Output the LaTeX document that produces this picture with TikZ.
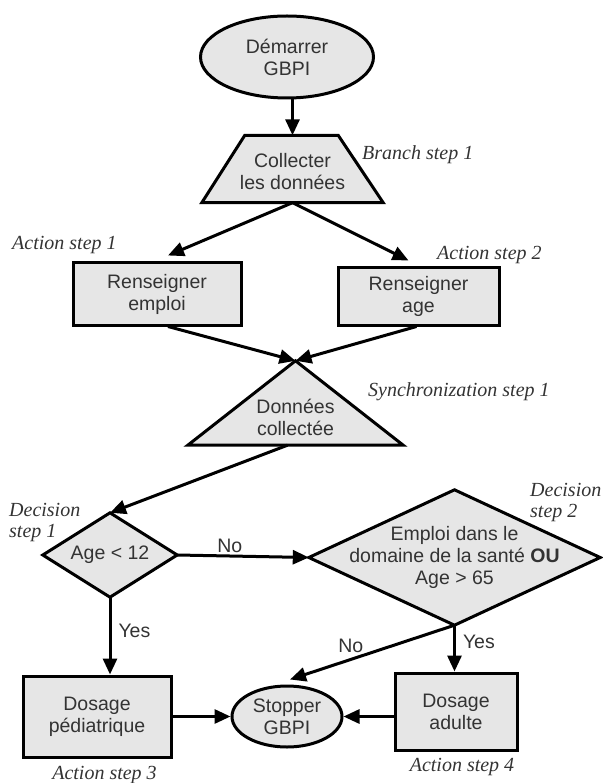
\documentclass[tikz,border=0pt]{standalone}
\usepackage{fontspec}
\setmainfont{Liberation Sans}
\newfontfamily\stepfont{Liberation Serif}
\usetikzlibrary{arrows.meta,shapes.geometric,backgrounds,calc}
\definecolor{Ink}{HTML}{333333}
\definecolor{Shade}{HTML}{E6E6E6}
\newcommand{\nodetxt}{\fontsize{19.5}{22}\selectfont}
\newcommand{\steptxt}{\fontsize{20}{21}\selectfont\stepfont\itshape}

\tikzset{
  every node/.style={text=Ink},
  box/.style={draw=black, fill=Shade, line width=3pt, align=center, inner sep=0pt, font=\nodetxt},
  roundbox/.style={box, ellipse},
  bare/.style={align=center, inner sep=0pt, font=\nodetxt},
  shape line/.style={draw=black, fill=Shade, line width=3pt, line join=miter},
  arr/.style={line width=3pt, -{Triangle[length=16pt,width=14pt]}},
  steplabel/.style={font=\steptxt, inner sep=0pt, align=left},
  edgelabel/.style={font=\nodetxt, inner sep=2pt},
}

\begin{document}
\begin{tikzpicture}[x=1pt,y=1pt]
    \useasboundingbox (0,0) rectangle (602,-783);

    % steps
    \node[roundbox, minimum width=173pt, minimum height=82pt] (start) at (287,-57) {Démarrer\\GBPI};
    \node[bare, minimum width=181pt, minimum height=67pt,
          label={[bare, yshift=-3pt]center:{Collecter\\les données}}] (collect) at (292.5,-169) {};
    \node[box, minimum width=168pt, minimum height=62pt] (emploi) at (157,-294) {Renseigner\\emploi};
    \node[box, minimum width=161pt, minimum height=58pt] (age) at (418.5,-296) {Renseigner\\age};
    \node[bare, minimum width=215pt, minimum height=84pt,
          label={[bare, yshift=-14pt]center:{Données\\collectée}}] (synch) at (295.5,-403) {};
    \node[bare, minimum width=134pt, minimum height=84pt] (dec1) at (110,-555) {Age < 12};
    \node[bare, minimum width=291pt, minimum height=135pt] (dec2) at (454.5,-557.5)
        {Emploi dans le\\domaine de la santé \textbf{OU}\\Age > 65};
    \node[box, minimum width=148pt, minimum height=81pt] (pedia) at (97,-716.5) {Dosage\\pédiatrique};
    \node[roundbox, minimum width=110pt, minimum height=61pt] (stop) at (287,-716.5) {Stopper\\GBPI};
    \node[box, minimum width=122pt, minimum height=77pt] (adulte) at (456,-711.5) {Dosage\\adulte};

    % outlines behind the text
    \begin{scope}[on background layer]
        \draw[shape line] (collect.south west) -- (collect.south east)
            -- ([xshift=-45pt]collect.north east) -- ([xshift=43pt]collect.north west) -- cycle;
        \draw[shape line] (synch.north) -- (synch.south east) -- (synch.south west) -- cycle;
        \draw[shape line] (dec1.north) -- (dec1.east) -- (dec1.south) -- (dec1.west) -- cycle;
        \draw[shape line] (dec2.north) -- (dec2.east) -- (dec2.south) -- (dec2.west) -- cycle;
    \end{scope}

    % flow
    \draw[arr] (start.south -| collect.north) -- (collect.north);
    \draw[arr] (collect.south) -- ([xshift=11pt,yshift=6pt]emploi.north);
    \draw[arr] (collect.south) -- ([xshift=-10pt,yshift=5pt]age.north);
    \draw[arr] ([xshift=11pt]emploi.south) -- (synch.north);
    \draw[arr] ([xshift=-2pt]age.south) -- (synch.north);
    \draw[arr] ([xshift=-8pt]synch.south) -- (dec1.north);
    \draw[arr] (dec1.east) -- node[edgelabel, pos=0.4, above] {No} (dec2.west);
    \draw[arr] (dec1.south) -- node[edgelabel, pos=0.43, right=5pt] {Yes} (dec1.south |- pedia.north);
    \draw[arr] (dec2.south) -- node[edgelabel, pos=0.36, right=5pt] {Yes} (dec2.south |- adulte.north);
    \draw[arr] (dec2.south) -- node[edgelabel, pos=0.63, above=3pt] {No} ([xshift=3pt,yshift=5pt]stop.north);
    \draw[arr] (pedia) -- (stop);
    \draw[arr] (adulte.west |- stop) -- (stop.east);

    % step names
    \node[steplabel, anchor=west] (branchlbl) at (362,-155) {Branch step 1};
    \node[steplabel, anchor=west] (act1lbl) at (12,-245) {Action step 1};
    \node[steplabel, anchor=west] (act2lbl) at (437,-255) {Action step 2};
    \node[steplabel, anchor=west] (synlbl) at (368,-392) {Synchronization step 1};
    \node[steplabel, anchor=west] (dec1lbl) at (9,-522.5) {Decision\\step 1};
    \node[steplabel, anchor=west] (dec2lbl) at (530,-503) {Decision\\step 2};
    \node[steplabel] (act3lbl) at (104.5,-775) {Action step 3};
    \node[steplabel] (act4lbl) at (462,-767) {Action step 4};
\end{tikzpicture}
\end{document}
